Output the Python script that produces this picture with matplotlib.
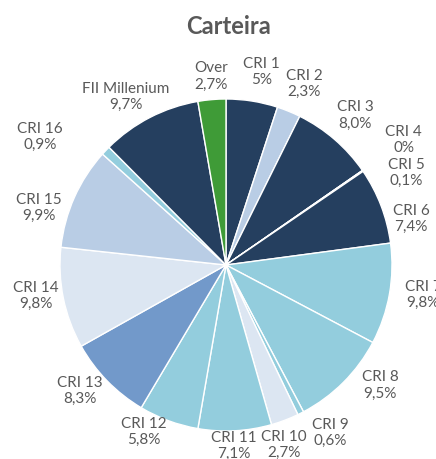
import numpy as np
import matplotlib
matplotlib.use("Agg")
import matplotlib.pyplot as plt

# ---- data ----
labels = ["CRI 1", "CRI 2", "CRI 3", "CRI 4", "CRI 5", "CRI 6", "CRI 7", "CRI 8",
          "CRI 9", "CRI 10", "CRI 11", "CRI 12", "CRI 13", "CRI 14", "CRI 15",
          "CRI 16", "FII Millenium", "Over"]
values = [5.0, 2.3, 8.0, 0.0, 0.1, 7.4, 9.8, 9.5, 0.6, 2.7, 7.1, 5.8, 8.3, 9.8,
          9.9, 0.9, 9.7, 2.7]
value_text = ["5%", "2,3%", "8,0%", "0%", "0,1%", "7,4%", "9,8%", "9,5%", "0,6%",
              "2,7%", "7,1%", "5,8%", "8,3%", "9,8%", "9,9%", "0,9%", "9,7%", "2,7%"]
title = "Carteira"

# ---- styles ----
NAVY = "#253f5f"
LB = "#b9cde5"
CY = "#93cddd"
VL = "#dce6f2"
MB = "#7299ca"
GR = "#3f9b37"
colors = [NAVY, LB, NAVY, LB, LB, NAVY, CY, CY, CY, VL, CY, CY, MB, VL, LB, CY, NAVY, GR]
# label radial distance (in radii) and angular nudge (deg, + = counter-clockwise)
label_r = [1.18, 1.19, 1.19, 1.31, 1.22, 1.15, 1.2, 1.18, 1.19, 1.14, 1.09, 1.12,
           1.16, 1.16, 1.18, 1.36, 1.18, 1.14]
label_da = [-1.3, -1.1, 0, 0.5, -7.5, -7, 1.4, 7, 5, -3, -0.6, -6, -3.5, -2.3, 7, 9, 3.5, -0.3]

plt.rcParams["font.family"] = ["Lato", "DejaVu Sans"]
TXT = "#595959"

fig = plt.figure(figsize=(4.36, 4.59), dpi=100)
W, H = 436, 459
cx, cy, R = 226, 265, 166
ax = fig.add_axes([(cx - R) / W, (H - cy - R) / H, 2 * R / W, 2 * R / H])

wedges, _ = ax.pie(values, colors=colors, startangle=90, counterclock=False,
                   wedgeprops=dict(edgecolor="white", linewidth=1.0))
ax.set_xlim(-1, 1)
ax.set_ylim(-1, 1)
ax.set_aspect("equal")
ax.axis("off")

for w, lab, vt, r, da in zip(wedges, labels, value_text, label_r, label_da):
    ang = np.deg2rad((w.theta1 + w.theta2) / 2 + da)
    ax.text(r * np.cos(ang), r * np.sin(ang), f"{lab}\n{vt}", ha="center", va="center",
            fontsize=11, color=TXT, linespacing=1.2, clip_on=False)

fig.text(228 / W, 1 - 27 / H, title, ha="center", va="center", fontsize=17,
         fontweight="bold", color=TXT)

fig.savefig("out.png", dpi=100)
